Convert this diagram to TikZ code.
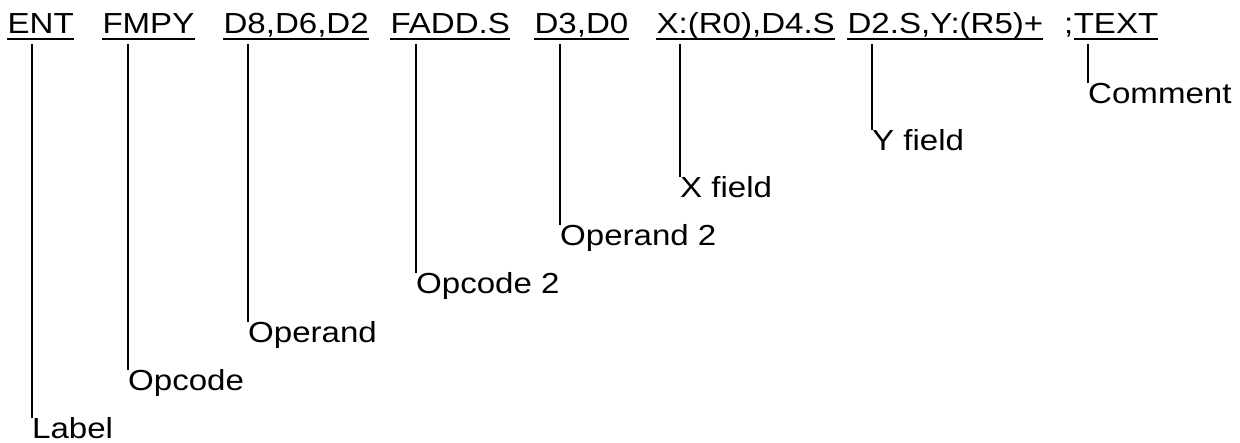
\documentclass[tikz,border=0pt]{standalone}
\usepackage{fontspec}
\setmainfont[FakeStretch=1.14]{Liberation Sans}
\usetikzlibrary{
  positioning,  % base right=of
}
\def\mytop{33.5}
\tikzset{
  font=\fontsize{29}{34}\selectfont,
  field/.style={
    anchor=base west,
    inner sep=0pt,
    text depth=10pt
  },
  part/.style={
    anchor=north west,
    inner sep=0pt,
    text height=20pt,
    text depth=0pt
  },
  lead/.style={
    line width=2pt
  },
  uline/.style={
    line width=2pt
  }
}
\begin{document}
\begin{tikzpicture}[x=1pt,y=-1pt]
\useasboundingbox (0,0) rectangle (1240,442);
% the instruction
\node[field] (ent)  at (7.4,\mytop)   {ENT};
\node[field] (fmpy) at (102.3,\mytop) {FMPY};
\node[field] (dreg) at (223.4,\mytop) {D8,D6,D2};
\node[field] (fadd) at (390.3,\mytop) {FADD.S};
\node[field] (dsrc) at (534.4,\mytop) {D3,D0};
\node[field] (xfld) at (656.4,\mytop) {X:(R0),D4.S};
\node[field] (yfld) at (847.4,\mytop) {D2.S,Y:(R5)+};
\node[field] (semi) at (1064,\mytop)  {;};
\node[field] (cmnt) [base right=0pt of semi] {TEXT};
% what each part is
\node[part] (label) at (32,418)   {Label};
\node[part] (opc)   at (128,370)  {Opcode};
\node[part] (opd)   at (248,322)  {Operand};
\node[part] (opc2)  at (416,273)  {Opcode 2};
\node[part] (opd2)  at (560,225)  {Operand 2};
\node[part] (xf)    at (680,177)  {X field};
\node[part] (yf)    at (872,130)  {Y field};
\node[part] (com)   at (1088,83)  {Comment};
\foreach \f in {ent,fmpy,dreg,fadd,dsrc,xfld,yfld,cmnt}
  \draw[uline] ([yshift=-5pt]\f.base west) -- ([yshift=-5pt]\f.base east);
\foreach \f/\p in {ent/label,fmpy/opc,dreg/opd,fadd/opc2,dsrc/opd2,xfld/xf,yfld/yf,cmnt/com}
  \draw[lead] (\p.north west |- \f.south) -- (\p.north west);
\end{tikzpicture}
\end{document}
